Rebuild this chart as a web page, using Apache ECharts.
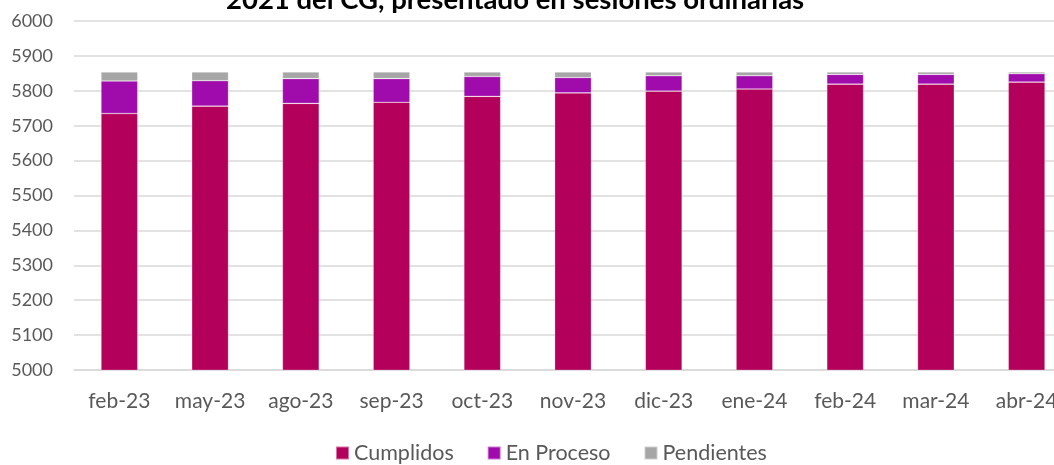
<!DOCTYPE html>
<html><head><meta charset="utf-8">
<script src="https://cdn.jsdelivr.net/npm/echarts@6/dist/echarts.min.js"></script>
<style>html,body{margin:0;padding:0;background:#fff}#c{width:1054px;height:465px}</style>
</head><body><div id="c"></div>
<script>
const categories = ["feb-23","may-23","ago-23","sep-23","oct-23","nov-23","dic-23","ene-24","feb-24","mar-24","abr-24"];
const cumplidos  = [5735,5756,5764,5767,5784,5794,5799,5805,5819,5819,5825];
const enProceso  = [93,73,71,68,57,44,44,38,28,28,24];
const pendientes = [26,25,19,19,13,16,11,11,7,7,5];
const yTicks = {min:5000, max:6000, interval:100};
const titleText = "2021 del CG, presentado en sesiones ordinarias";

const FONT = "Lato";
const chart = echarts.init(document.getElementById('c'), null, {renderer:'canvas'});
const seg = (name, data, color) => ({
  name, type:'bar', stack:'total', data, barWidth:'40.5%',
  itemStyle:{color, borderColor:'rgba(255,255,255,0.45)', borderWidth:0.6}
});
chart.setOption({
  animation:false,
  textStyle:{fontFamily:FONT},
  title:{text:titleText, left:221, top:-19,
    textStyle:{fontFamily:FONT, fontWeight:'bold', fontSize:27.5, color:'#000'}},
  grid:{left:74, width:998, top:21, height:349, containLabel:false, outerBoundsMode:'none'},
  legend:{top:437, left:330, itemWidth:13, itemHeight:13, itemGap:33, icon:'rect',
    textStyle:{fontFamily:FONT, fontSize:21.5, color:'#595959'},
    data:['Cumplidos','En Proceso','Pendientes']},
  xAxis:{type:'category', data:categories,
    axisLine:{lineStyle:{color:'#d9d9d9', width:1.5}}, axisTick:{show:false},
    axisLabel:{fontFamily:FONT, fontSize:21, color:'#595959', margin:21, interval:0}},
  yAxis:{type:'value', min:yTicks.min, max:yTicks.max, interval:yTicks.interval,
    axisLine:{show:false}, axisTick:{show:false},
    splitLine:{lineStyle:{color:'#d9d9d9', width:1.5}},
    axisLabel:{fontFamily:FONT, fontSize:18, color:'#595959', margin:21,
      formatter:v => String(v)}},
  series:[
    seg('Cumplidos', cumplidos, '#b3005a'),
    seg('En Proceso', enProceso, '#a00bab'),
    seg('Pendientes', pendientes, '#a6a6a6')
  ]
});
</script></body></html>
